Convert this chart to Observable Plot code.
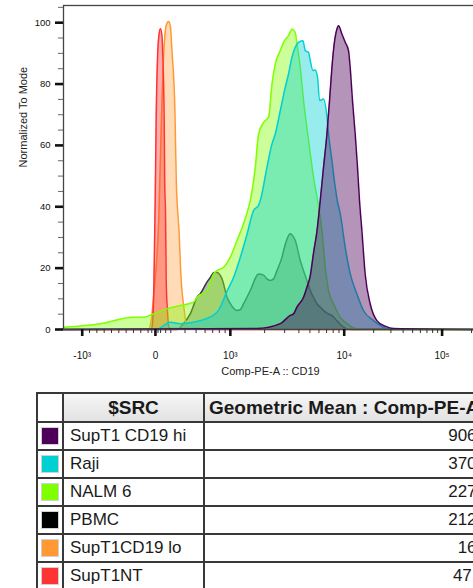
<!DOCTYPE html>
<html><head><meta charset="utf-8">
<script src="https://cdn.jsdelivr.net/npm/d3@7"></script>
<script src="https://cdn.jsdelivr.net/npm/@observablehq/plot@0.6"></script>
<style>
html,body{margin:0;padding:0;overflow:hidden;background:#fff;width:473px;height:588px;}
#chart{position:absolute;left:0;top:0;width:487px;}
#chart svg{max-width:none !important;}
#tbl{position:absolute;left:36px;top:392px;width:457px;border-collapse:collapse;table-layout:fixed;
  font-family:"Liberation Sans",Arial,sans-serif;color:#1a1a1a;}
#tbl td,#tbl th{border:2px solid #383838;padding:0;white-space:nowrap;overflow:hidden;}
#tbl th{height:27px;font-size:19px;font-weight:bold;background:linear-gradient(#f6f6f6,#e2e2e2);}
#tbl th.c0{background:#fff;}
#tbl th.c2{text-align:left;padding-left:4px;}
#tbl td{height:26px;font-size:17px;}
#tbl td.c1{padding-left:6px;}
#tbl td.c2{text-align:right;padding-right:7px;}
.sw{display:block;width:16px;height:16px;margin:0 auto;border:1px solid #d0d0d0;}
</style></head><body>
<div id="chart"></div>
<table id="tbl">
<colgroup><col style="width:26px"><col style="width:141px"><col style="width:290px"></colgroup>
<thead><tr><th class="c0"></th><th class="c1">$SRC</th><th class="c2">Geometric Mean : Comp-PE-A :: CD19</th></tr></thead>
<tbody id="tb"></tbody></table>
<script>
// ---- data ----
const samples = ["SupT1 CD19 hi", "Raji", "NALM 6", "PBMC", "SupT1CD19 lo", "SupT1NT"];
const colors = ["#4d0057", "#00d0d4", "#80ff00", "#000000", "#ff9933", "#ff3333"];
const geoMeans = ["9068", "3701", "2273", "2120", "163", "47.5"];

// x: Comp-PE-A :: CD19 intensity, y: % of mode
const hiX = [-1460, 1715, 2746, 3359, 3592, 3847, 4395, 4708, 5033, 5379, 5761, 6159, 6582, 7050, 7432, 7800, 8171, 8630, 8913, 9546, 10240, 11060, 11510, 12150, 12950, 13670, 14330, 15160, 16370, 18420, 21570, 26210, 31850, 230000];
const hiY = [0, 0.3, 1.9, 4.6, 5.1, 7.3, 10.5, 13.8, 17.5, 25, 32, 42, 52.9, 63.7, 74.6, 85.4, 93.1, 97.9, 99.0, 96.3, 93.6, 90.9, 85.4, 74.6, 63.7, 52.9, 42.0, 32.2, 18.1, 8.4, 2.9, 1.1, 0.3, 0];

const rajiX = [-1460, 33, 292, 364, 545, 765, 817, 936, 1070, 1224, 1401, 1601, 1771, 1833, 2099, 2322, 2481, 2746, 3037, 3246, 3477, 3718, 3973, 4343, 4549, 4862, 5033, 5314, 5567, 5832, 6072, 6582, 6952, 7283, 7800, 8339, 8700, 9224, 10240, 11510, 13480, 15740, 19910, 25180, 29480, 230000];
const rajiY = [0, 0.2, 2.4, 1.9, 2.9, 5.6, 7.3, 12.5, 17.0, 23.5, 31, 38.8, 40.5, 42, 52.9, 60.5, 63.7, 71.3, 78.9, 83.3, 88.7, 92.0, 93.6, 94.1, 90.9, 90.3, 87.6, 84.4, 84.6, 82.2, 74.6, 75.1, 71.3, 63.7, 55.0, 46.4, 42, 37.8, 26.8, 18.2, 11.6, 6.2, 2.9, 0.75, 0, 0];

const nalmX = [-1460, -750, -300, -160, -23, 228, 364, 476, 510, 625, 714, 765, 873, 1000, 1145, 1308, 1447, 1497, 1657, 1771, 1960, 2168, 2322, 2481, 2746, 2934, 3246, 3477, 3718, 3847, 4111, 4395, 4862, 5379, 5832, 6373, 6812, 7283, 8056, 9224, 10660, 13480, 31800, 230000];
const nalmY = [0.75, 1.9, 4.0, 4.0, 5.1, 6.8, 7.8, 8.9, 10.5, 12.7, 18.1, 19.2, 20.3, 23.6, 29.0, 34.5, 39.8, 42.0, 52.9, 63.7, 67.5, 69.2, 80.0, 86.5, 90.9, 93.6, 95.8, 97.9, 96.8, 93.1, 85.4, 74.6, 61.6, 49.6, 42.0, 32.2, 20.3, 12.7, 8.4, 4.0, 1.9, 0.2, 0, 0];

const pbmcX = [-1460, 341, 389, 446, 510, 545, 625, 668, 714, 754, 846, 936, 1000, 1145, 1224, 1308, 1497, 1771, 1960, 2099, 2243, 2398, 2568, 2841, 2934, 3359, 3540, 3718, 4111, 4708, 5033, 5379, 5761, 6159, 7050, 7800, 8630, 9860, 11510, 230000];
const pbmcY = [0, 0, 2, 5.2, 10.5, 11.7, 15.5, 17.0, 18.5, 18.7, 16.5, 10.5, 8.4, 6.2, 6.5, 8.4, 12.7, 18.1, 17.7, 16.5, 16.0, 16.5, 19.2, 23.6, 25.7, 31.2, 30.5, 29.0, 22.5, 16.0, 12.7, 10.5, 8.4, 7.3, 5.3, 4.6, 2.9, 0.75, 0, 0];

const loX = [-1460, -95, -59, -14, 64, 117, 162, 185, 214, 259, 292, 307, 326, 335, 354, 370, 394, 411, 446, 230000];
const loY = [0, 0, 2.9, 13.7, 35.5, 68.1, 89.9, 95.8, 99.3, 100.4, 98.7, 90.9, 71.3, 48.5, 32.2, 16.0, 6.2, 1.3, 0.2, 0];

const ntX = [-1460, -55, -37, -20, -3, 14, 39, 68, 97, 127, 142, 171, 181, 199, 210, 234, 263, 292, 545, 600, 230000];
const ntY = [0, 0, 2.9, 16, 42, 68, 87.6, 95.8, 98, 95.8, 90, 68, 48.5, 35.5, 16, 6.2, 0.7, 0.3, 0.3, 0, 0];

const xMin = -1460, xMax = 230000;
const xMajor = [-1000, 0, 1000, 10000, 100000];
const xMajorLabels = ["-10³", "0", "10³", "10⁴", "10⁵"];
const xMinor = [-900, -800, -700, -600, -500, -400, -300, -200, -100, -50, 50, 100, 200, 300, 400, 500, 600, 700, 800, 900,
  2000, 3000, 4000, 5000, 6000, 7000, 8000, 9000, 20000, 30000, 40000, 50000, 60000, 70000, 80000, 90000, 200000];
const yMajor = [0, 20, 40, 60, 80, 100];
const yMinor = [5, 10, 15, 25, 30, 35, 45, 50, 55, 65, 70, 75, 85, 90, 95, 105];
const yTop = 105.6;

// biexponential-like display transform of the flow axis
function disp(v) {
  if (v <= -1000) return -73.3 - 114 * Math.log10(-v / 1000);
  if (v < 0) return 0.0733 * v;
  if (v < 300) return v * (15.4 / 300);
  if (v < 10000) return 75 + 114 * Math.log10(v / 1000);
  return 189 + 98 * Math.log10(v / 10000);
}

const xs = [hiX, rajiX, nalmX, pbmcX, loX, ntX];
const ys = [hiY, rajiY, nalmY, pbmcY, loY, ntY];
const rows = xs.map((X, i) => X.map((v, j) => ({v, y: ys[i][j]})));
const fillOp = [0.42, 0.4, 0.4, 0.28, 0.35, 0.4];
const strokeOp = [1, 1, 1, 0.7, 1, 1];
const order = [3, 4, 5, 2, 1, 0];

const labelMap = new Map(xMajor.map((t, i) => [disp(t), xMajorLabels[i]]));

const marks = [];
for (const i of order) {
  marks.push(Plot.areaY(rows[i], {x: r => disp(r.v), y: "y", fill: colors[i], fillOpacity: fillOp[i], curve: "monotone-x"}));
  marks.push(Plot.lineY(rows[i], {x: r => disp(r.v), y: "y", stroke: colors[i], strokeOpacity: strokeOp[i], strokeWidth: 1.5, curve: "monotone-x"}));
}
marks.push(Plot.frame({stroke: "#444", strokeWidth: 1.3}));
marks.push(Plot.axisY(yMinor, {tickSize: 5, strokeWidth: 1, stroke: "#666", tickFormat: () => "", label: null}));
marks.push(Plot.axisY(yMajor, {tickSize: 8, strokeWidth: 2.6, color: "#111", tickPadding: 5, fontSize: 9.5, fontWeight: 500, label: null}));
marks.push(Plot.axisX(xMinor.map(disp), {tickSize: 4, strokeWidth: 1, stroke: "#333", tickFormat: () => "", label: null}));
marks.push(Plot.axisX(xMajor.map(disp), {tickSize: 7, strokeWidth: 2.6, color: "#111", tickPadding: 15, fontSize: 10, tickFormat: d => labelMap.get(d), label: null}));
marks.push(Plot.text(["Normalized To Mode"], {frameAnchor: "left", rotate: -90, dx: -40, fontSize: 11, fill: "#222"}));
marks.push(Plot.text(["Comp-PE-A :: CD19"], {frameAnchor: "bottom", dy: 45, fontSize: 11, fill: "#222"}));

const chart = Plot.plot({
  width: 487, height: 382,
  marginLeft: 63, marginRight: 10, marginTop: 5, marginBottom: 53,
  x: {type: "linear", domain: [disp(xMin), disp(xMax)]},
  y: {domain: [0, yTop]},
  style: {fontFamily: "'Liberation Sans', Arial, sans-serif", background: "white", overflow: "visible", maxWidth: "none"},
  marks
});
document.getElementById("chart").appendChild(chart);

const tb = document.getElementById("tb");
samples.forEach((s, i) => {
  const tr = document.createElement("tr");
  tr.innerHTML = `<td class="c0"><span class="sw" style="background:${colors[i]}"></span></td><td class="c1">${s}</td><td class="c2">${geoMeans[i]}</td>`;
  tb.appendChild(tr);
});
</script>
</body></html>
